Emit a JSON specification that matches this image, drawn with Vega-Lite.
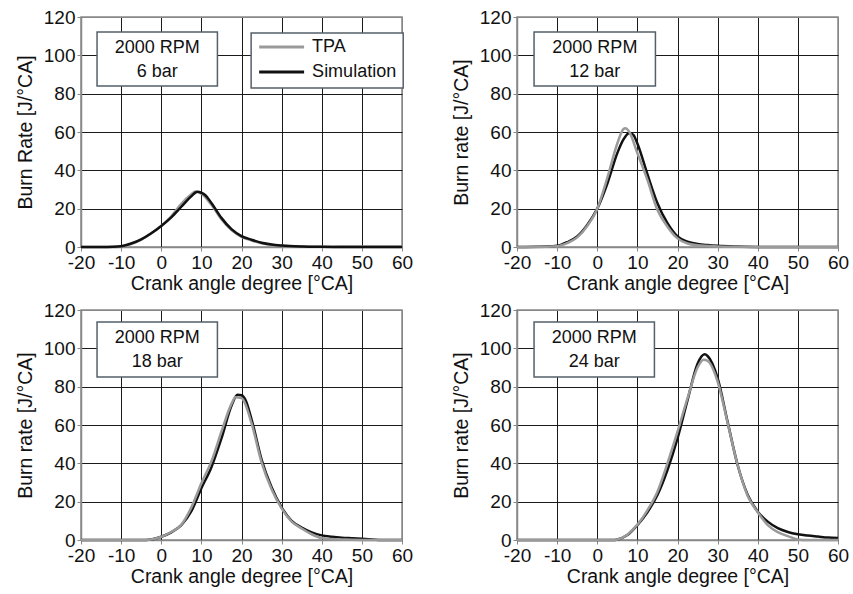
{
"$schema": "https://vega.github.io/schema/vega-lite/v6.json",
"padding": {"left": 14, "top": 7, "right": 0, "bottom": 0},
"background": "white",
"datasets": {
"labels": [
{"panel": "6 bar", "label": "2000 RPM\n6 bar"},
{"panel": "12 bar", "label": "2000 RPM\n12 bar"},
{"panel": "18 bar", "label": "2000 RPM\n18 bar"},
{"panel": "24 bar", "label": "2000 RPM\n24 bar"}
],
"curves": [
{"panel":"6 bar","series":"TPA","angle":-20,"rate":0},
{"panel":"6 bar","series":"TPA","angle":-12,"rate":0},
{"panel":"6 bar","series":"TPA","angle":-10,"rate":0.3},
{"panel":"6 bar","series":"TPA","angle":-7.5,"rate":1.5},
{"panel":"6 bar","series":"TPA","angle":-5,"rate":3.8},
{"panel":"6 bar","series":"TPA","angle":-2.5,"rate":7},
{"panel":"6 bar","series":"TPA","angle":0,"rate":11},
{"panel":"6 bar","series":"TPA","angle":2.5,"rate":16},
{"panel":"6 bar","series":"TPA","angle":5,"rate":22.5},
{"panel":"6 bar","series":"TPA","angle":7.5,"rate":27.5},
{"panel":"6 bar","series":"TPA","angle":8.5,"rate":29},
{"panel":"6 bar","series":"TPA","angle":10,"rate":27.8},
{"panel":"6 bar","series":"TPA","angle":12.5,"rate":22},
{"panel":"6 bar","series":"TPA","angle":15,"rate":14.5},
{"panel":"6 bar","series":"TPA","angle":17.5,"rate":8.8},
{"panel":"6 bar","series":"TPA","angle":20,"rate":5.3},
{"panel":"6 bar","series":"TPA","angle":22.5,"rate":3.4},
{"panel":"6 bar","series":"TPA","angle":25,"rate":2},
{"panel":"6 bar","series":"TPA","angle":30,"rate":0.6},
{"panel":"6 bar","series":"TPA","angle":35,"rate":0.2},
{"panel":"6 bar","series":"TPA","angle":40,"rate":0.1},
{"panel":"6 bar","series":"TPA","angle":45,"rate":0.2},
{"panel":"6 bar","series":"TPA","angle":50,"rate":0.2},
{"panel":"6 bar","series":"TPA","angle":55,"rate":0.2},
{"panel":"6 bar","series":"TPA","angle":60,"rate":0.3},
{"panel":"6 bar","series":"Simulation","angle":-20,"rate":0},
{"panel":"6 bar","series":"Simulation","angle":-15,"rate":0},
{"panel":"6 bar","series":"Simulation","angle":-12,"rate":0.1},
{"panel":"6 bar","series":"Simulation","angle":-10,"rate":0.4},
{"panel":"6 bar","series":"Simulation","angle":-7.5,"rate":1.8},
{"panel":"6 bar","series":"Simulation","angle":-5,"rate":4},
{"panel":"6 bar","series":"Simulation","angle":-2.5,"rate":7.2},
{"panel":"6 bar","series":"Simulation","angle":0,"rate":11},
{"panel":"6 bar","series":"Simulation","angle":2.5,"rate":15.5},
{"panel":"6 bar","series":"Simulation","angle":5,"rate":21},
{"panel":"6 bar","series":"Simulation","angle":7.5,"rate":26.5},
{"panel":"6 bar","series":"Simulation","angle":9,"rate":28.8},
{"panel":"6 bar","series":"Simulation","angle":10,"rate":28.3},
{"panel":"6 bar","series":"Simulation","angle":11,"rate":27},
{"panel":"6 bar","series":"Simulation","angle":12.5,"rate":23},
{"panel":"6 bar","series":"Simulation","angle":15,"rate":15.2},
{"panel":"6 bar","series":"Simulation","angle":17.5,"rate":9.3},
{"panel":"6 bar","series":"Simulation","angle":20,"rate":5.7},
{"panel":"6 bar","series":"Simulation","angle":22.5,"rate":3.8},
{"panel":"6 bar","series":"Simulation","angle":25,"rate":2.2},
{"panel":"6 bar","series":"Simulation","angle":27.5,"rate":1.3},
{"panel":"6 bar","series":"Simulation","angle":30,"rate":0.8},
{"panel":"6 bar","series":"Simulation","angle":35,"rate":0.3},
{"panel":"6 bar","series":"Simulation","angle":40,"rate":0.1},
{"panel":"6 bar","series":"Simulation","angle":45,"rate":0},
{"panel":"6 bar","series":"Simulation","angle":60,"rate":0},

{"panel":"12 bar","series":"Simulation","angle":-20,"rate":0},
{"panel":"12 bar","series":"Simulation","angle":-15,"rate":0.1},
{"panel":"12 bar","series":"Simulation","angle":-12.5,"rate":0.2},
{"panel":"12 bar","series":"Simulation","angle":-10,"rate":0.6},
{"panel":"12 bar","series":"Simulation","angle":-7.5,"rate":2.5},
{"panel":"12 bar","series":"Simulation","angle":-5,"rate":5.5},
{"panel":"12 bar","series":"Simulation","angle":-2.5,"rate":11.5},
{"panel":"12 bar","series":"Simulation","angle":0,"rate":20},
{"panel":"12 bar","series":"Simulation","angle":2.5,"rate":33},
{"panel":"12 bar","series":"Simulation","angle":5,"rate":49},
{"panel":"12 bar","series":"Simulation","angle":6.5,"rate":56},
{"panel":"12 bar","series":"Simulation","angle":8,"rate":59.5},
{"panel":"12 bar","series":"Simulation","angle":9,"rate":58.5},
{"panel":"12 bar","series":"Simulation","angle":10,"rate":54},
{"panel":"12 bar","series":"Simulation","angle":12.5,"rate":38},
{"panel":"12 bar","series":"Simulation","angle":15,"rate":22.8},
{"panel":"12 bar","series":"Simulation","angle":17.5,"rate":12.4},
{"panel":"12 bar","series":"Simulation","angle":20,"rate":5.5},
{"panel":"12 bar","series":"Simulation","angle":22.5,"rate":2.8},
{"panel":"12 bar","series":"Simulation","angle":25,"rate":1.6},
{"panel":"12 bar","series":"Simulation","angle":27.5,"rate":1},
{"panel":"12 bar","series":"Simulation","angle":30,"rate":0.6},
{"panel":"12 bar","series":"Simulation","angle":35,"rate":0.2},
{"panel":"12 bar","series":"Simulation","angle":40,"rate":0},
{"panel":"12 bar","series":"Simulation","angle":60,"rate":0},
{"panel":"12 bar","series":"TPA","angle":-20,"rate":0},
{"panel":"12 bar","series":"TPA","angle":-15,"rate":0},
{"panel":"12 bar","series":"TPA","angle":-10,"rate":0.4},
{"panel":"12 bar","series":"TPA","angle":-7.5,"rate":2},
{"panel":"12 bar","series":"TPA","angle":-5,"rate":5},
{"panel":"12 bar","series":"TPA","angle":-2.5,"rate":11},
{"panel":"12 bar","series":"TPA","angle":0,"rate":20},
{"panel":"12 bar","series":"TPA","angle":2.5,"rate":36},
{"panel":"12 bar","series":"TPA","angle":5,"rate":54},
{"panel":"12 bar","series":"TPA","angle":6.5,"rate":61.5},
{"panel":"12 bar","series":"TPA","angle":7,"rate":62},
{"panel":"12 bar","series":"TPA","angle":8,"rate":60},
{"panel":"12 bar","series":"TPA","angle":10,"rate":49},
{"panel":"12 bar","series":"TPA","angle":12.5,"rate":35},
{"panel":"12 bar","series":"TPA","angle":15,"rate":19.3},
{"panel":"12 bar","series":"TPA","angle":17.5,"rate":10.6},
{"panel":"12 bar","series":"TPA","angle":20,"rate":4.5},
{"panel":"12 bar","series":"TPA","angle":22.5,"rate":1.8},
{"panel":"12 bar","series":"TPA","angle":25,"rate":0.9},
{"panel":"12 bar","series":"TPA","angle":30,"rate":0.3},
{"panel":"12 bar","series":"TPA","angle":35,"rate":0.1},
{"panel":"12 bar","series":"TPA","angle":40,"rate":0},
{"panel":"12 bar","series":"TPA","angle":60,"rate":0},

{"panel":"18 bar","series":"Simulation","angle":-20,"rate":0},
{"panel":"18 bar","series":"Simulation","angle":-5,"rate":0},
{"panel":"18 bar","series":"Simulation","angle":-2.5,"rate":0.3},
{"panel":"18 bar","series":"Simulation","angle":0,"rate":1.7},
{"panel":"18 bar","series":"Simulation","angle":2.5,"rate":4},
{"panel":"18 bar","series":"Simulation","angle":5,"rate":7.8},
{"panel":"18 bar","series":"Simulation","angle":7.5,"rate":15},
{"panel":"18 bar","series":"Simulation","angle":10,"rate":27},
{"panel":"18 bar","series":"Simulation","angle":12.5,"rate":38},
{"panel":"18 bar","series":"Simulation","angle":15,"rate":53},
{"panel":"18 bar","series":"Simulation","angle":17.5,"rate":70},
{"panel":"18 bar","series":"Simulation","angle":19,"rate":75.8},
{"panel":"18 bar","series":"Simulation","angle":20,"rate":75.5},
{"panel":"18 bar","series":"Simulation","angle":21,"rate":73},
{"panel":"18 bar","series":"Simulation","angle":22.5,"rate":63},
{"panel":"18 bar","series":"Simulation","angle":25,"rate":42},
{"panel":"18 bar","series":"Simulation","angle":27.5,"rate":27.5},
{"panel":"18 bar","series":"Simulation","angle":30,"rate":17},
{"panel":"18 bar","series":"Simulation","angle":32.5,"rate":10},
{"panel":"18 bar","series":"Simulation","angle":35,"rate":6.5},
{"panel":"18 bar","series":"Simulation","angle":37.5,"rate":4},
{"panel":"18 bar","series":"Simulation","angle":40,"rate":2.4},
{"panel":"18 bar","series":"Simulation","angle":42.5,"rate":1.7},
{"panel":"18 bar","series":"Simulation","angle":45,"rate":1.2},
{"panel":"18 bar","series":"Simulation","angle":47.5,"rate":0.9},
{"panel":"18 bar","series":"Simulation","angle":50,"rate":0.6},
{"panel":"18 bar","series":"Simulation","angle":52.5,"rate":0.3},
{"panel":"18 bar","series":"Simulation","angle":55,"rate":0},
{"panel":"18 bar","series":"Simulation","angle":60,"rate":0},
{"panel":"18 bar","series":"TPA","angle":-20,"rate":0},
{"panel":"18 bar","series":"TPA","angle":-5,"rate":0},
{"panel":"18 bar","series":"TPA","angle":-2.5,"rate":0.3},
{"panel":"18 bar","series":"TPA","angle":0,"rate":1.7},
{"panel":"18 bar","series":"TPA","angle":2.5,"rate":4.2},
{"panel":"18 bar","series":"TPA","angle":5,"rate":8},
{"panel":"18 bar","series":"TPA","angle":7.5,"rate":17},
{"panel":"18 bar","series":"TPA","angle":10,"rate":29.6},
{"panel":"18 bar","series":"TPA","angle":12.5,"rate":41},
{"panel":"18 bar","series":"TPA","angle":15,"rate":56.5},
{"panel":"18 bar","series":"TPA","angle":17.5,"rate":71},
{"panel":"18 bar","series":"TPA","angle":18.5,"rate":74.5},
{"panel":"18 bar","series":"TPA","angle":20,"rate":74},
{"panel":"18 bar","series":"TPA","angle":22.5,"rate":61},
{"panel":"18 bar","series":"TPA","angle":25,"rate":40.5},
{"panel":"18 bar","series":"TPA","angle":27.5,"rate":26.5},
{"panel":"18 bar","series":"TPA","angle":30,"rate":16.5},
{"panel":"18 bar","series":"TPA","angle":32.5,"rate":9.6},
{"panel":"18 bar","series":"TPA","angle":35,"rate":6},
{"panel":"18 bar","series":"TPA","angle":37.5,"rate":3},
{"panel":"18 bar","series":"TPA","angle":40,"rate":1},
{"panel":"18 bar","series":"TPA","angle":42.5,"rate":0.5},
{"panel":"18 bar","series":"TPA","angle":45,"rate":0.3},
{"panel":"18 bar","series":"TPA","angle":50,"rate":0},
{"panel":"18 bar","series":"TPA","angle":60,"rate":0},

{"panel":"24 bar","series":"Simulation","angle":-20,"rate":0},
{"panel":"24 bar","series":"Simulation","angle":0,"rate":0},
{"panel":"24 bar","series":"Simulation","angle":4,"rate":0},
{"panel":"24 bar","series":"Simulation","angle":5,"rate":0.3},
{"panel":"24 bar","series":"Simulation","angle":7.5,"rate":2.6},
{"panel":"24 bar","series":"Simulation","angle":10,"rate":7.8},
{"panel":"24 bar","series":"Simulation","angle":12.5,"rate":14.5},
{"panel":"24 bar","series":"Simulation","angle":15,"rate":23.5},
{"panel":"24 bar","series":"Simulation","angle":17.5,"rate":36.5},
{"panel":"24 bar","series":"Simulation","angle":20,"rate":53},
{"panel":"24 bar","series":"Simulation","angle":22.5,"rate":73},
{"panel":"24 bar","series":"Simulation","angle":25,"rate":92},
{"panel":"24 bar","series":"Simulation","angle":26.75,"rate":96.9},
{"panel":"24 bar","series":"Simulation","angle":27.5,"rate":96},
{"panel":"24 bar","series":"Simulation","angle":30,"rate":84.4},
{"panel":"24 bar","series":"Simulation","angle":32.5,"rate":61.5},
{"panel":"24 bar","series":"Simulation","angle":35,"rate":39},
{"panel":"24 bar","series":"Simulation","angle":37.5,"rate":23.5},
{"panel":"24 bar","series":"Simulation","angle":40,"rate":14.8},
{"panel":"24 bar","series":"Simulation","angle":42.5,"rate":9.6},
{"panel":"24 bar","series":"Simulation","angle":45,"rate":6.2},
{"panel":"24 bar","series":"Simulation","angle":47.5,"rate":4.2},
{"panel":"24 bar","series":"Simulation","angle":50,"rate":3},
{"panel":"24 bar","series":"Simulation","angle":52.5,"rate":2.3},
{"panel":"24 bar","series":"Simulation","angle":55,"rate":1.8},
{"panel":"24 bar","series":"Simulation","angle":57.5,"rate":1.3},
{"panel":"24 bar","series":"Simulation","angle":60,"rate":1},
{"panel":"24 bar","series":"TPA","angle":-20,"rate":0},
{"panel":"24 bar","series":"TPA","angle":0,"rate":0},
{"panel":"24 bar","series":"TPA","angle":4,"rate":0},
{"panel":"24 bar","series":"TPA","angle":5,"rate":0.3},
{"panel":"24 bar","series":"TPA","angle":7.5,"rate":2.8},
{"panel":"24 bar","series":"TPA","angle":10,"rate":8},
{"panel":"24 bar","series":"TPA","angle":12.5,"rate":15.5},
{"panel":"24 bar","series":"TPA","angle":15,"rate":25.2},
{"panel":"24 bar","series":"TPA","angle":17.5,"rate":40},
{"panel":"24 bar","series":"TPA","angle":20,"rate":56.5},
{"panel":"24 bar","series":"TPA","angle":22.5,"rate":74},
{"panel":"24 bar","series":"TPA","angle":25,"rate":90},
{"panel":"24 bar","series":"TPA","angle":26.5,"rate":94},
{"panel":"24 bar","series":"TPA","angle":27.5,"rate":93.5},
{"panel":"24 bar","series":"TPA","angle":30,"rate":82.7},
{"panel":"24 bar","series":"TPA","angle":32.5,"rate":61},
{"panel":"24 bar","series":"TPA","angle":35,"rate":39},
{"panel":"24 bar","series":"TPA","angle":37.5,"rate":23},
{"panel":"24 bar","series":"TPA","angle":40,"rate":14.5},
{"panel":"24 bar","series":"TPA","angle":42.5,"rate":7.8},
{"panel":"24 bar","series":"TPA","angle":45,"rate":4.1},
{"panel":"24 bar","series":"TPA","angle":47.5,"rate":2},
{"panel":"24 bar","series":"TPA","angle":50,"rate":0.3},
{"panel":"24 bar","series":"TPA","angle":52.5,"rate":0},
{"panel":"24 bar","series":"TPA","angle":60,"rate":0}
]
},
"columns": 2,
"spacing": {"row": 63, "column": 115},
"bounds": "flush",
"concat": [
{
"width": 321, "height": 230,
"layer": [
{"data": {"name": "curves"}, "transform": [{"filter": {"field": "panel", "equal": "6 bar"}}],
 "mark": {"type": "line", "strokeWidth": 2.5, "interpolate": "monotone"},
 "encoding": {
  "x": {"field": "angle", "type": "quantitative", "scale": {"domain": [-20, 60], "nice": false}, "axis": {"values": [-20,-10,0,10,20,30,40,50,60], "title": "Crank angle degree [°CA]", "gridColor": {"condition": {"test": "datum.value === 60", "value": "#888888"}, "value": "#1a1a1a"}}},
  "y": {"field": "rate", "type": "quantitative", "scale": {"domain": [0, 120], "nice": false}, "axis": {"values": [0,20,40,60,80,100,120], "title": "Burn Rate [J/°CA]", "gridColor": {"condition": {"test": "datum.value === 120", "value": "#888888"}, "value": "#1a1a1a"}}},
  "color": {"field": "series", "type": "nominal", "scale": {"domain": ["Simulation", "TPA"], "range": ["#111111", "#9a9a9a"]}, "legend": null}
 }},
{"data": {"name": "labels"}, "transform": [{"filter": {"field": "panel", "equal": "6 bar"}}],
 "mark": {"type": "rect", "fill": "#b5b5b5", "opacity": 0.55, "xOffset": 3, "yOffset": 3},
 "encoding": {"x": {"datum": -16}, "x2": {"datum": 14}, "y": {"datum": 112.2}, "y2": {"datum": 84}}},
{"data": {"name": "labels"}, "transform": [{"filter": {"field": "panel", "equal": "6 bar"}}],
 "mark": {"type": "rect", "fill": "white", "stroke": "#55606a", "strokeWidth": 1.5},
 "encoding": {"x": {"datum": -16}, "x2": {"datum": 14}, "y": {"datum": 112.2}, "y2": {"datum": 84}}},
{"data": {"name": "labels"}, "transform": [{"filter": {"field": "panel", "equal": "6 bar"}}],
 "mark": {"type": "text", "font": "Liberation Sans", "fontSize": 18, "lineHeight": 24, "lineBreak": "\n", "color": "#111111", "baseline": "middle"},
 "encoding": {"x": {"datum": -1}, "y": {"datum": 104}, "text": {"field": "label"}}},
{"data": {"name": "labels"}, "transform": [{"filter": {"field": "panel", "equal": "6 bar"}}],
 "mark": {"type": "rect", "fill": "#b5b5b5", "opacity": 0.55, "xOffset": 3, "yOffset": 3},
 "encoding": {"x": {"datum": 22.4}, "x2": {"datum": 60.3}, "y": {"datum": 111.7}, "y2": {"datum": 83}}},
{"data": {"name": "labels"}, "transform": [{"filter": {"field": "panel", "equal": "6 bar"}}],
 "mark": {"type": "rect", "fill": "white", "stroke": "#55606a", "strokeWidth": 1.5},
 "encoding": {"x": {"datum": 22.4}, "x2": {"datum": 60.3}, "y": {"datum": 111.7}, "y2": {"datum": 83}}},
{"data": {"name": "labels"}, "transform": [{"filter": {"field": "panel", "equal": "6 bar"}}],
 "mark": {"type": "rule", "strokeWidth": 3},
 "encoding": {"x": {"datum": 24.4}, "x2": {"datum": 35.6}, "y": {"datum": 104.3}, "color": {"datum": "TPA"}}},
{"data": {"name": "labels"}, "transform": [{"filter": {"field": "panel", "equal": "6 bar"}}],
 "mark": {"type": "rule", "strokeWidth": 3},
 "encoding": {"x": {"datum": 24.4}, "x2": {"datum": 35.6}, "y": {"datum": 91.3}, "color": {"datum": "Simulation"}}},
{"data": {"name": "labels"}, "transform": [{"filter": {"field": "panel", "equal": "6 bar"}}],
 "mark": {"type": "text", "font": "Liberation Sans", "fontSize": 18, "color": "#111111", "align": "left", "baseline": "middle"},
 "encoding": {"x": {"datum": 37.6}, "y": {"datum": 104.3}, "text": {"datum": "TPA"}}},
{"data": {"name": "labels"}, "transform": [{"filter": {"field": "panel", "equal": "6 bar"}}],
 "mark": {"type": "text", "font": "Liberation Sans", "fontSize": 18, "color": "#111111", "align": "left", "baseline": "middle"},
 "encoding": {"x": {"datum": 37.6}, "y": {"datum": 91.3}, "text": {"datum": "Simulation"}}}
]
},
{
"width": 321, "height": 230,
"layer": [
{"data": {"name": "curves"}, "transform": [{"filter": {"field": "panel", "equal": "12 bar"}}],
 "mark": {"type": "line", "strokeWidth": 2.5, "interpolate": "monotone"},
 "encoding": {
  "x": {"field": "angle", "type": "quantitative", "scale": {"domain": [-20, 60], "nice": false}, "axis": {"values": [-20,-10,0,10,20,30,40,50,60], "title": "Crank angle degree [°CA]", "gridColor": {"condition": {"test": "datum.value === 60", "value": "#888888"}, "value": "#1a1a1a"}}},
  "y": {"field": "rate", "type": "quantitative", "scale": {"domain": [0, 120], "nice": false}, "axis": {"values": [0,20,40,60,80,100,120], "title": "Burn rate [J/°CA]", "gridColor": {"condition": {"test": "datum.value === 120", "value": "#888888"}, "value": "#1a1a1a"}}},
  "color": {"field": "series", "type": "nominal", "scale": {"domain": ["Simulation", "TPA"], "range": ["#111111", "#8f8f8f"]}, "legend": null}
 }},
{"data": {"name": "labels"}, "transform": [{"filter": {"field": "panel", "equal": "12 bar"}}],
 "mark": {"type": "rect", "fill": "#b5b5b5", "opacity": 0.55, "xOffset": 3, "yOffset": 3},
 "encoding": {"x": {"datum": -15.75}, "x2": {"datum": 14.5}, "y": {"datum": 112.2}, "y2": {"datum": 84}}},
{"data": {"name": "labels"}, "transform": [{"filter": {"field": "panel", "equal": "12 bar"}}],
 "mark": {"type": "rect", "fill": "white", "stroke": "#55606a", "strokeWidth": 1.5},
 "encoding": {"x": {"datum": -15.75}, "x2": {"datum": 14.5}, "y": {"datum": 112.2}, "y2": {"datum": 84}}},
{"data": {"name": "labels"}, "transform": [{"filter": {"field": "panel", "equal": "12 bar"}}],
 "mark": {"type": "text", "font": "Liberation Sans", "fontSize": 18, "lineHeight": 24, "lineBreak": "\n", "color": "#111111", "baseline": "middle"},
 "encoding": {"x": {"datum": -0.6}, "y": {"datum": 104}, "text": {"field": "label"}}}
]
},
{
"width": 321, "height": 230,
"layer": [
{"data": {"name": "curves"}, "transform": [{"filter": {"field": "panel", "equal": "18 bar"}}],
 "mark": {"type": "line", "strokeWidth": 2.5, "interpolate": "monotone"},
 "encoding": {
  "x": {"field": "angle", "type": "quantitative", "scale": {"domain": [-20, 60], "nice": false}, "axis": {"values": [-20,-10,0,10,20,30,40,50,60], "title": "Crank angle degree [°CA]", "gridColor": {"condition": {"test": "datum.value === 60", "value": "#888888"}, "value": "#1a1a1a"}}},
  "y": {"field": "rate", "type": "quantitative", "scale": {"domain": [0, 120], "nice": false}, "axis": {"values": [0,20,40,60,80,100,120], "title": "Burn rate [J/°CA]", "gridColor": {"condition": {"test": "datum.value === 120", "value": "#888888"}, "value": "#1a1a1a"}}},
  "color": {"field": "series", "type": "nominal", "scale": {"domain": ["Simulation", "TPA"], "range": ["#111111", "#8f8f8f"]}, "legend": null}
 }},
{"data": {"name": "labels"}, "transform": [{"filter": {"field": "panel", "equal": "18 bar"}}],
 "mark": {"type": "rect", "fill": "#b5b5b5", "opacity": 0.55, "xOffset": 3, "yOffset": 3},
 "encoding": {"x": {"datum": -16}, "x2": {"datum": 14}, "y": {"datum": 113.7}, "y2": {"datum": 85}}},
{"data": {"name": "labels"}, "transform": [{"filter": {"field": "panel", "equal": "18 bar"}}],
 "mark": {"type": "rect", "fill": "white", "stroke": "#55606a", "strokeWidth": 1.5},
 "encoding": {"x": {"datum": -16}, "x2": {"datum": 14}, "y": {"datum": 113.7}, "y2": {"datum": 85}}},
{"data": {"name": "labels"}, "transform": [{"filter": {"field": "panel", "equal": "18 bar"}}],
 "mark": {"type": "text", "font": "Liberation Sans", "fontSize": 18, "lineHeight": 24, "lineBreak": "\n", "color": "#111111", "baseline": "middle"},
 "encoding": {"x": {"datum": -1}, "y": {"datum": 105.3}, "text": {"field": "label"}}}
]
},
{
"width": 321, "height": 230,
"layer": [
{"data": {"name": "curves"}, "transform": [{"filter": {"field": "panel", "equal": "24 bar"}}],
 "mark": {"type": "line", "strokeWidth": 2.5, "interpolate": "monotone"},
 "encoding": {
  "x": {"field": "angle", "type": "quantitative", "scale": {"domain": [-20, 60], "nice": false}, "axis": {"values": [-20,-10,0,10,20,30,40,50,60], "title": "Crank angle degree [°CA]", "gridColor": {"condition": {"test": "datum.value === 60", "value": "#888888"}, "value": "#1a1a1a"}}},
  "y": {"field": "rate", "type": "quantitative", "scale": {"domain": [0, 120], "nice": false}, "axis": {"values": [0,20,40,60,80,100,120], "title": "Burn rate [J/°CA]", "gridColor": {"condition": {"test": "datum.value === 120", "value": "#888888"}, "value": "#1a1a1a"}}},
  "color": {"field": "series", "type": "nominal", "scale": {"domain": ["Simulation", "TPA"], "range": ["#111111", "#8f8f8f"]}, "legend": null}
 }},
{"data": {"name": "labels"}, "transform": [{"filter": {"field": "panel", "equal": "24 bar"}}],
 "mark": {"type": "rect", "fill": "#b5b5b5", "opacity": 0.55, "xOffset": 3, "yOffset": 3},
 "encoding": {"x": {"datum": -15.75}, "x2": {"datum": 14.25}, "y": {"datum": 113.7}, "y2": {"datum": 85}}},
{"data": {"name": "labels"}, "transform": [{"filter": {"field": "panel", "equal": "24 bar"}}],
 "mark": {"type": "rect", "fill": "white", "stroke": "#55606a", "strokeWidth": 1.5},
 "encoding": {"x": {"datum": -15.75}, "x2": {"datum": 14.25}, "y": {"datum": 113.7}, "y2": {"datum": 85}}},
{"data": {"name": "labels"}, "transform": [{"filter": {"field": "panel", "equal": "24 bar"}}],
 "mark": {"type": "text", "font": "Liberation Sans", "fontSize": 18, "lineHeight": 24, "lineBreak": "\n", "color": "#111111", "baseline": "middle"},
 "encoding": {"x": {"datum": -0.75}, "y": {"datum": 105.3}, "text": {"field": "label"}}}
]
}
],
"config": {
 "view": {"stroke": "#888888", "strokeWidth": 1.5},
 "axis": {"labelFont": "Liberation Sans", "titleFont": "Liberation Sans", "labelFontSize": 19, "titleFontSize": 19.5, "titleFontWeight": "normal", "labelColor": "#111111", "titleColor": "#111111", "gridOpacity": 1, "gridWidth": 1, "domainColor": "#888888", "domainWidth": 1.5, "tickColor": "#888888", "tickSize": 4, "labelPadding": 2, "labelFlush": false, "labelOverlap": false},
 "axisX": {"titlePadding": 2, "tickCount": 12, "labelExpr": "'' + datum.value"},
 "axisY": {"titlePadding": 8, "tickCount": 10}
}
}
